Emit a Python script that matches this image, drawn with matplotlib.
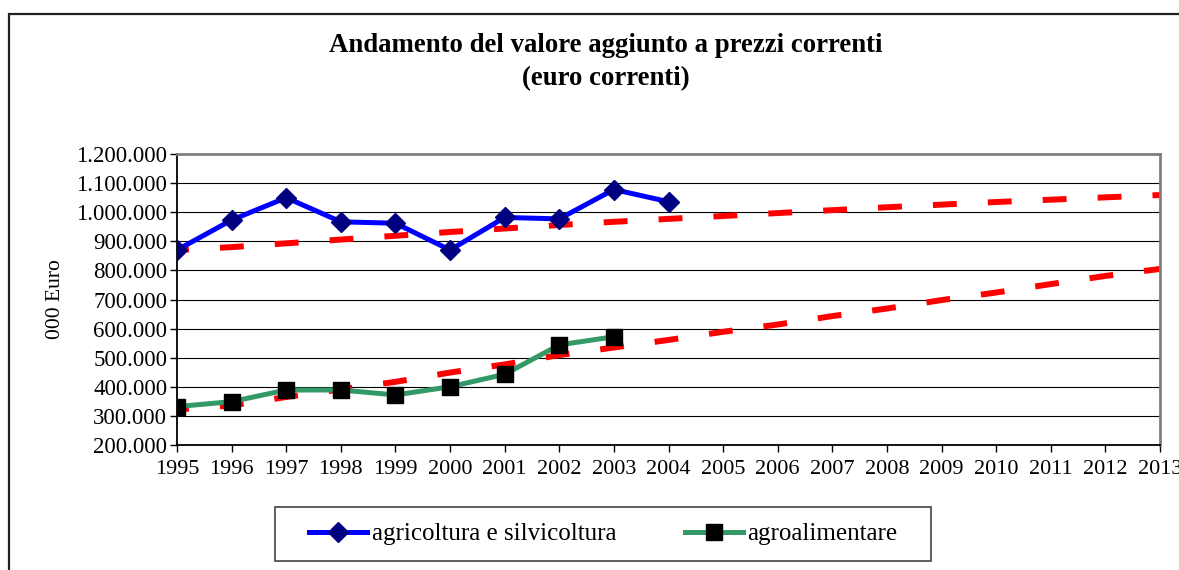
import numpy as np
import matplotlib
matplotlib.use('Agg')
import matplotlib.pyplot as plt
from matplotlib.ticker import FuncFormatter
from matplotlib.patches import Rectangle

plt.rcParams['font.family'] = ['Liberation Serif', 'DejaVu Serif']

# dati (000 euro)
years = list(range(1995, 2014))
agri_years = list(range(1995, 2005))
agri = [870000, 973000, 1050000, 967000, 962000, 870000, 982000, 977000, 1078000, 1036000]
agro_years = list(range(1995, 2004))
agro = [332000, 349000, 389000, 389000, 372000, 400000, 443000, 544000, 572000]

# linee di tendenza
agri_trend = [870000, 880000, 893000, 906000, 919000, 932000, 944000, 956000, 967000, 977000,
              987000, 997000, 1007000, 1017000, 1026000, 1035000, 1043000, 1051000, 1059000]
agro_trend = [322000, 336000, 365000, 391000, 417000, 449000, 477000, 509000, 535000, 561000,
              589000, 614000, 643000, 669000, 698000, 724000, 753000, 781000, 805000]

W, H = 1179, 570
fig = plt.figure(figsize=(W / 100, H / 100), dpi=100)
ax = fig.add_axes([177 / W, 1 - 445 / H, (1160 - 177) / W, (445 - 154) / H])

# cornice esterna
fig.patches.append(Rectangle((9 / W, -0.05), 1.1, 1 - 14 / H + 0.05, transform=fig.transFigure,
                             fill=False, edgecolor='#222222', linewidth=1.6))

# tendenze tratteggiate
dash = (2.0, (4.0, 5.2))
ax.plot(years, agri_trend, color='#ff0000', lw=4.3, linestyle=dash, dash_capstyle='butt', zorder=2)
ax.plot(years, agro_trend, color='#ff0000', lw=4.3, linestyle=dash, dash_capstyle='butt', zorder=2)

ax.plot(agri_years, agri, color='#0000ff', lw=3.6, marker='D', ms=10,
        markerfacecolor='#000080', markeredgecolor='#000080', zorder=3,
        label='agricoltura e silvicoltura')
ax.plot(agro_years, agro, color='#339966', lw=3.6, marker='s', ms=11,
        markerfacecolor='black', markeredgecolor='black', zorder=3,
        label='agroalimentare')

ax.set_xlim(1995, 2013)
ax.set_ylim(200000, 1200000)
ax.set_xticks(years)
ax.set_yticks(np.arange(200000, 1200001, 100000))
ax.yaxis.set_major_formatter(FuncFormatter(lambda v, p: f"{int(v):,}".replace(',', '.')))
ax.tick_params(axis='both', direction='out', length=5, width=1, color='black')
ax.tick_params(axis='y', labelsize=16.5, pad=2)
ax.tick_params(axis='x', labelsize=16, pad=6)
ax.grid(axis='y', color='black', lw=0.8)
ax.set_axisbelow(True)

for s in ['left', 'bottom']:
    ax.spines[s].set_color('black')
    ax.spines[s].set_linewidth(1.3)
for s in ['top', 'right']:
    ax.spines[s].set_color('#808080')
    ax.spines[s].set_linewidth(2)

ax.set_ylabel('000 Euro', fontsize=15.5, labelpad=8)

fig.text(0.514, 1 - 45 / H, 'Andamento del valore aggiunto a prezzi correnti', ha='center', va='center',
         fontsize=19.3, fontweight='bold')
fig.text(0.514, 1 - 79 / H, '(euro correnti)', ha='center', va='center',
         fontsize=19.3, fontweight='bold')

# legenda con cornice a parte
fig.patches.append(Rectangle((274.5 / W, 1 - 561 / H), (931 - 274.5) / W, 54 / H, transform=fig.transFigure,
                             fill=False, edgecolor='#444444', linewidth=1.2))
fig.legend(loc='center left', bbox_to_anchor=(309 / W, 1 - 534 / H), ncol=2, fontsize=18,
           frameon=False, handlelength=2.32, columnspacing=2.72, handletextpad=0.2,
           borderpad=0, borderaxespad=0)

fig.savefig('out.png', dpi=100)
